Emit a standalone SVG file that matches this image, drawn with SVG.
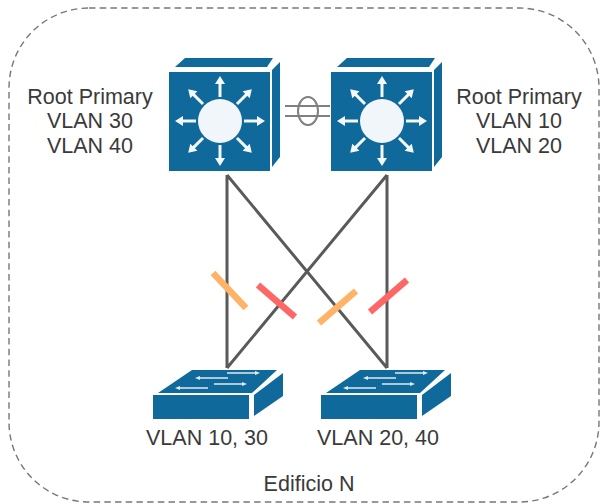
<svg xmlns="http://www.w3.org/2000/svg" xmlns:xlink="http://www.w3.org/1999/xlink" width="601" height="504" viewBox="0 0 601 504">
<style>
text{font-family:"Liberation Sans",Arial,sans-serif;font-size:21.500px;fill:#3a3a3a;text-anchor:middle}
.b{fill:#10699b}
.w{fill:none;stroke:#f4f8fb;stroke-width:3}
.a{fill:#f4f8fb}
.l{fill:none;stroke:#5a5a5a;stroke-width:3}
.t{stroke-width:6.500;fill:none}
.p{fill:none;stroke:#808080;stroke-width:2}
.s{fill:none;stroke:#dfeaf1;stroke-width:1.500}
</style>
<defs>
<g id="arrow"><path d="M0-24V-38" class="w"/><path d="M-5-37 0-45 5-37Z" class="a"/></g>
<g id="sa"><path d="M0 0H-28" class="s"/><path d="M0-2 5 0 0 2Z" fill="#dfeaf1"/></g>
<g id="l3">
<path class="b" d="M-45-54 -35-63H53L47-54Z"/>
<path class="b" d="M52-51 60-59V36L52 46Z"/>
<rect class="b" x="-51" y="-49" width="101" height="99"/>
<circle cx="0" cy="0" r="22" fill="#f0f6fa"/>
<use xlink:href="#arrow"/>
<use xlink:href="#arrow" transform="rotate(45)"/>
<use xlink:href="#arrow" transform="rotate(90)"/>
<use xlink:href="#arrow" transform="rotate(135)"/>
<use xlink:href="#arrow" transform="rotate(180)"/>
<use xlink:href="#arrow" transform="rotate(225)"/>
<use xlink:href="#arrow" transform="rotate(270)"/>
<use xlink:href="#arrow" transform="rotate(315)"/>
</g>
<g id="l2">
<path class="b" d="M5-2 39-25H124L99-2Z"/>
<path class="b" d="M101 0 130-22V1L101 21Z"/>
<rect class="b" x="0" y="0" width="96" height="24"/>
<use xlink:href="#sa" transform="translate(102 -22)"/>
<use xlink:href="#sa" transform="translate(47 -17) rotate(180)"/>
<use xlink:href="#sa" transform="translate(89 -11)"/>
<use xlink:href="#sa" transform="translate(27 -7) rotate(180)"/>
</g>
</defs>
<rect x="9" y="8" width="590" height="494" rx="80" ry="80" fill="#fff" stroke="#777" stroke-width="1.400" stroke-dasharray="6.500 4.200"/>
<g id="connectors">
<path class="l" d="M227 175V368M227 175 387 368M387 175 227 368M387 175V368"/>
<path class="p" d="M285 106H330M285 116H330"/>
<ellipse cx="308" cy="111" rx="10" ry="14" class="p"/>
<path class="t" stroke="#ffb366" d="M213 273 246 308M319 323 356 291"/>
<path class="t" stroke="#ff6666" d="M258 285 295 317M370 312 407 280"/>
</g>
<g id="core-left"><use xlink:href="#l3" transform="translate(220 121)"/></g>
<g id="core-right"><use xlink:href="#l3" transform="translate(382 121)"/></g>
<g id="access-left"><use xlink:href="#l2" transform="translate(153 395)"/></g>
<g id="access-right"><use xlink:href="#l2" transform="translate(321 395)"/></g>
<g id="labels">
<text x="90" y="104">Root Primary</text><text x="90" y="128">VLAN 30</text><text x="90" y="153">VLAN 40</text>
<text x="519" y="104">Root Primary</text><text x="519" y="128">VLAN 10</text><text x="519" y="153">VLAN 20</text>
<text x="207" y="445">VLAN 10, 30</text><text x="378" y="445">VLAN 20, 40</text>
<text x="309" y="491">Edificio N</text>
</g>
</svg>
